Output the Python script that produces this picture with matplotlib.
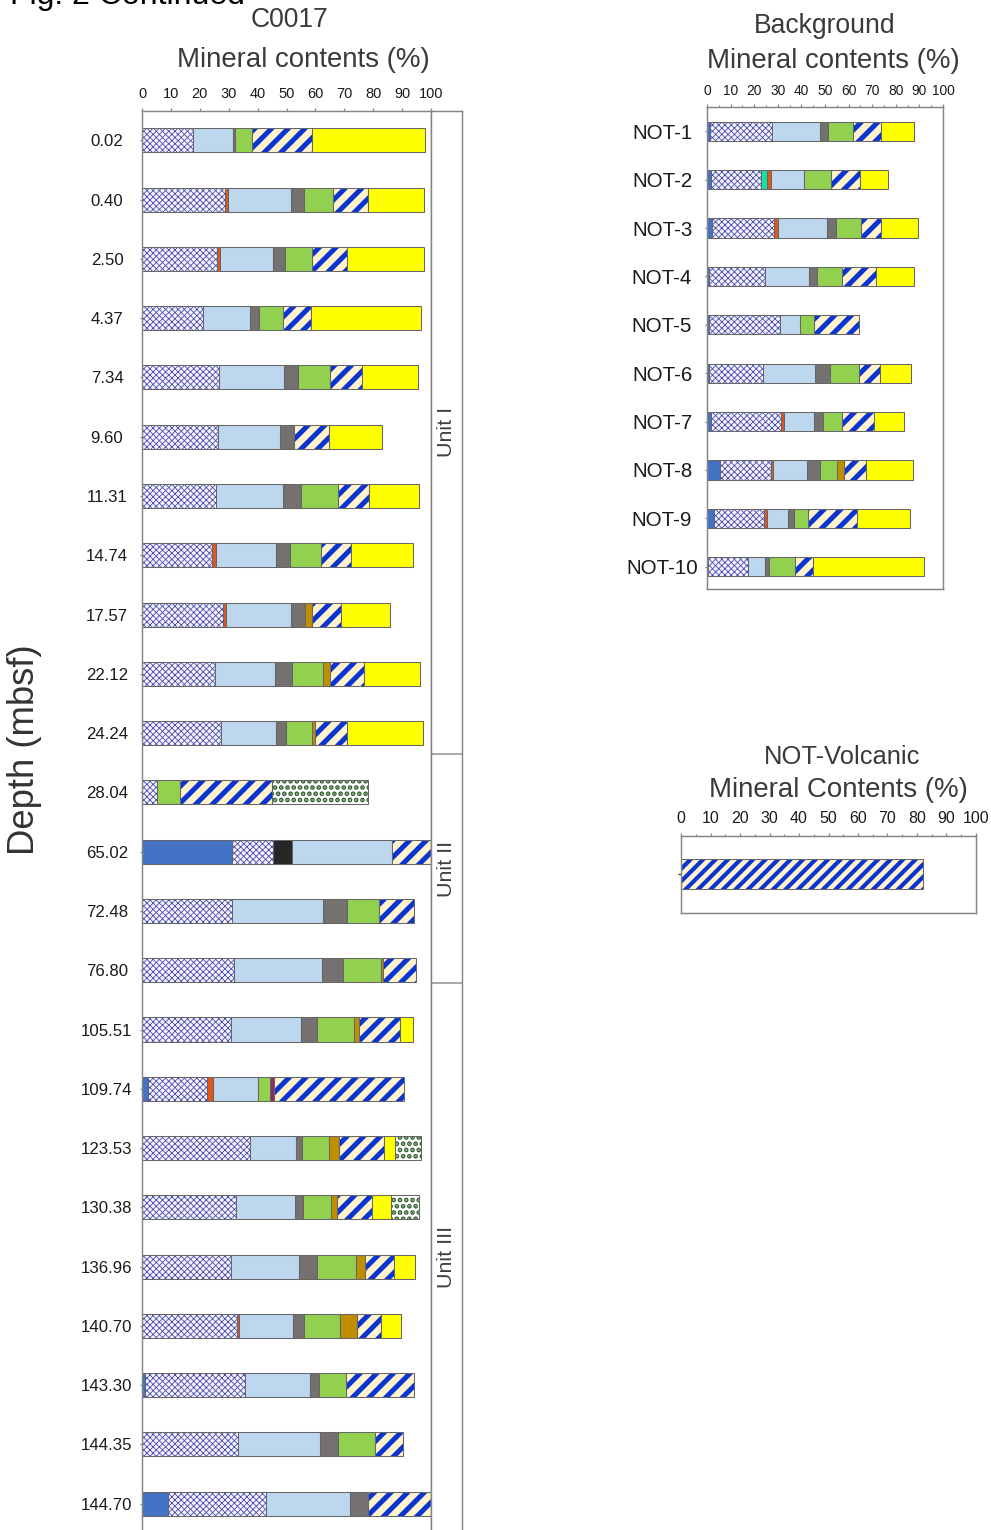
import numpy as np
import matplotlib
matplotlib.use("Agg")
import matplotlib.pyplot as plt

# ---------------- data ----------------
depth_labels = ["0.02", "0.40", "2.50", "4.37", "7.34", "9.60", "11.31", "14.74",
                "17.57", "22.12", "24.24", "28.04", "65.02", "72.48", "76.80",
                "105.51", "109.74", "123.53", "130.38", "136.96", "140.70",
                "143.30", "144.35", "144.70"]

c_solid_blue = [0, 0, 0, 0, 0, 0, 0, 0, 0, 0, 0, 0, 31.3, 0, 0, 0, 2.0, 0, 0, 0, 0, 1.0, 0, 9.0]
c_crosshatch = [17.8, 28.8, 26.1, 21.2, 26.6, 26.4, 25.7, 24.3, 28.1, 25.4, 27.5, 5.3,
                14.1, 31.1, 31.8, 30.9, 20.6, 37.5, 32.6, 30.9, 32.9, 34.7, 33.2, 33.9]
c_black = [0, 0, 0, 0, 0, 0, 0, 0, 0, 0, 0, 0, 6.6, 0, 0, 0, 0, 0, 0, 0, 0, 0, 0, 0]
c_orange = [0, 0.8, 1.0, 0, 0, 0, 0, 1.2, 1.0, 0, 0, 0, 0, 0, 0, 0, 2.0, 0, 0, 0, 0.6, 0, 0, 0]
c_light_blue = [13.6, 21.8, 18.3, 16.0, 22.4, 21.2, 23.1, 21.0, 22.5, 20.5, 18.9, 0,
                34.4, 31.6, 30.4, 24.1, 15.6, 15.9, 20.2, 23.5, 18.6, 22.6, 28.5, 28.9]
c_gray = [0.9, 4.6, 4.2, 3.3, 5.1, 5.1, 6.2, 4.6, 4.8, 5.9, 3.5, 0,
          0, 8.3, 7.3, 5.4, 0, 2.0, 2.9, 6.3, 3.9, 3.0, 6.1, 6.5]
c_green = [5.8, 10.0, 9.2, 8.2, 11.1, 0, 12.8, 10.8, 0, 10.8, 8.9, 8.0,
           0, 11.1, 13.3, 12.8, 4.2, 9.3, 9.6, 13.5, 12.6, 9.3, 12.8, 0]
c_purple = [0, 0, 0, 0, 0, 0, 0, 0, 0, 0, 0, 0, 0, 0, 0, 0, 1.4, 0, 0, 0, 0, 0, 0, 0]
c_gold = [0, 0, 0, 0, 0, 0, 0, 0, 2.5, 2.5, 1.2, 0, 0, 0, 0.6, 1.8, 0, 3.6, 2.2, 3.0, 5.9, 0, 0, 0]
c_stripes = [20.6, 12.1, 12.2, 9.7, 10.8, 12.0, 10.7, 10.5, 9.9, 11.6, 10.8, 31.8,
             13.6, 12.1, 11.5, 14.3, 44.8, 15.3, 12.1, 9.9, 8.3, 23.4, 9.7, 21.7]
c_yellow = [39.3, 19.4, 26.5, 38.1, 19.6, 18.2, 17.4, 21.2, 17.1, 19.4, 26.5, 0,
            0, 0, 0, 4.6, 0, 3.9, 6.7, 7.3, 6.8, 0, 0, 0]
c_dots = [0, 0, 0, 0, 0, 0, 0, 0, 0, 0, 0, 33.0, 0, 0, 0, 0, 0, 9.2, 9.7, 0, 0, 0, 0, 0]

unit_names = ["Unit I", "Unit II", "Unit III"]

bg_labels = ["NOT-1", "NOT-2", "NOT-3", "NOT-4", "NOT-5", "NOT-6", "NOT-7", "NOT-8", "NOT-9", "NOT-10"]
bg_solid_blue = [1.1, 1.8, 2.1, 0.8, 0.8, 1.0, 1.7, 5.5, 3.1, 0.6]
bg_crosshatch = [26.6, 21.2, 26.5, 23.9, 30.2, 22.9, 29.7, 21.5, 21.1, 16.6]
bg_teal = [0, 2.3, 0, 0, 0, 0, 0, 0, 0, 0]
bg_orange = [0, 1.7, 1.4, 0, 0, 0, 1.3, 1.1, 1.1, 0]
bg_light_blue = [20.3, 13.9, 21.0, 18.6, 8.4, 22.0, 12.6, 14.2, 8.9, 7.4]
bg_gray = [3.3, 0, 3.5, 3.3, 0, 6.1, 4.0, 5.4, 2.7, 1.8]
bg_green = [10.6, 11.6, 10.9, 10.8, 5.8, 12.6, 7.8, 7.5, 6.1, 11.0]
bg_gold = [0, 0, 0, 0, 0, 0, 0, 3.0, 0, 0]
bg_stripes = [11.8, 12.5, 8.5, 14.3, 19.1, 8.8, 13.7, 9.2, 20.5, 7.5]
bg_yellow = [14.0, 11.8, 15.6, 16.1, 0, 13.2, 12.7, 19.8, 22.7, 47.2]

volc_labels = [""]
volc_stripes = [82.1]

# ---------------- style ----------------
W, H, DPI = 991, 1530, 150
plt.rcParams['font.family'] = ['Liberation Sans', 'DejaVu Sans']

EDGE = '#666666'
SPINE = '#858585'
TXT = '#3a3a3a'

STYLES = {
    'solid_blue': dict(face='#4472C4'),
    'crosshatch': dict(face='#F4F4FC', hatch='xxxxxxxx', hc='#4A4AB4', hlw=0.4),
    'black': dict(face='#262626'),
    'orange': dict(face='#E2561B'),
    'teal': dict(face='#19E39B'),
    'light_blue': dict(face='#BDD7EE'),
    'gray': dict(face='#767171'),
    'green': dict(face='#92D050'),
    'purple': dict(face='#8E2A5C'),
    'gold': dict(face='#BF8F00'),
    'stripes': dict(face='#FFF2CC', hatch='///', hc='#0A35D0', hlw=2.4),
    'stripes_dense': dict(face='#FFF2CC', hatch='////', hc='#0A35D0', hlw=2.0),
    'yellow': dict(face='#FFFF00'),
    'dots': dict(face='#FFFFFF', hatch='....', hc='#2F5F2F', hlw=1.6),
}

fig = plt.figure(figsize=(W / DPI, H / DPI), dpi=DPI)


def ax_px(l, t, r, b):
    return fig.add_axes([l / W, 1 - b / H, (r - l) / W, (b - t) / H])


def fs(px):
    return px * 72.0 / DPI


def stacked(ax, comps, height):
    n = len(comps[0][1])
    y = np.arange(n)
    left = np.zeros(n)
    for key, vals in comps:
        vals = np.asarray(vals, float)
        m = vals > 0
        st = STYLES[key]
        if m.any():
            if 'hatch' in st:
                with plt.rc_context({'hatch.linewidth': st['hlw']}):
                    bars = ax.barh(y[m], vals[m], left=left[m], height=height,
                                   color=st['face'], edgecolor=st['hc'],
                                   linewidth=0, hatch=st['hatch'])
                    for p in bars:
                        if hasattr(p, 'set_hatch_linewidth'):
                            p.set_hatch_linewidth(st['hlw'])
                ax.barh(y[m], vals[m], left=left[m], height=height, fill=False,
                        edgecolor=EDGE, linewidth=0.5)
            else:
                ax.barh(y[m], vals[m], left=left[m], height=height,
                        color=st['face'], edgecolor=EDGE, linewidth=0.5)
        left += vals


def style_axes(ax, labelsize_x, pad_x, minor=False):
    ax.set_xlim(0, 100)
    ax.xaxis.tick_top()
    ax.set_xticks(np.arange(0, 101, 10))
    if minor:
        ax.set_xticks(np.arange(5, 100, 10), minor=True)
        ax.tick_params(axis='x', which='minor', direction='out', length=fs(2.0),
                       width=0.6, color=SPINE, top=True, bottom=False)
    ax.tick_params(axis='x', which='major', direction='out', length=fs(3.0), width=0.6,
                   color=SPINE, labelsize=labelsize_x, pad=pad_x, top=True,
                   bottom=False, labelcolor='#1a1a1a')
    for s in ax.spines.values():
        s.set_color(SPINE)
        s.set_linewidth(0.7)


# ---------------- main chart (C0017) ----------------
y0, dy = 140.3, 59.28
top_px, bot_px = 111, 1530
ax = ax_px(142, top_px, 431, bot_px)
main_comps = [('solid_blue', c_solid_blue), ('crosshatch', c_crosshatch), ('black', c_black),
              ('orange', c_orange), ('light_blue', c_light_blue), ('gray', c_gray),
              ('green', c_green), ('purple', c_purple), ('gold', c_gold),
              ('stripes', c_stripes), ('yellow', c_yellow), ('dots', c_dots)]
stacked(ax, main_comps, 0.405)
ylim_main = ((bot_px - y0) / dy, (top_px - y0) / dy)
ax.set_ylim(*ylim_main)
style_axes(ax, fs(14.5), fs(7))
ax.set_yticks(np.arange(len(depth_labels)))
ax.set_yticklabels(depth_labels, ha='center')
ax.tick_params(axis='y', direction='out', length=fs(2.5), width=0.6, color=SPINE,
               labelsize=fs(16.8), pad=fs(32.5), labelcolor='#1a1a1a')
ax.spines['bottom'].set_visible(False)

# unit column
axu = ax_px(431, top_px, 461.5, bot_px)
axu.set_ylim(*ylim_main)
axu.set_xlim(0, 1)
axu.set_xticks([])
axu.set_yticks([])
for s in axu.spines.values():
    s.set_color(SPINE)
    s.set_linewidth(0.7)
axu.spines['bottom'].set_visible(False)
unit_bounds = [ylim_main[1], 10.35, 14.22, ylim_main[0]]
for b in unit_bounds[1:-1]:
    axu.axhline(b, color='#9a9a9a', linewidth=0.8)
for i, name in enumerate(unit_names):
    axu.text(0.5, (unit_bounds[i] + unit_bounds[i + 1]) / 2, name, rotation=90,
             ha='center', va='center', fontsize=fs(21.5), color='#404040')

fig.text(25 / W, 1 - 750 / H, "Depth (mbsf)", rotation=90, ha='center', va='center',
         fontsize=fs(36.5), color='#333333')
fig.text(289 / W, 1 - 20 / H, "C0017", ha='center', va='center', fontsize=fs(26.5), color=TXT)
fig.text(303 / W, 1 - 60 / H, "Mineral contents (%)", ha='center', va='center',
         fontsize=fs(27.6), color=TXT)
fig.text(10 / W, 1 - 4 / H, "Fig. 2 Continued", ha='left', va='baseline',
         fontsize=fs(32), color='black')

# ---------------- background chart ----------------
by0, bdy = 131.3, 48.38
btop, bbot = 107, 589
axb = ax_px(707, btop, 943, bbot)
bg_comps = [('solid_blue', bg_solid_blue), ('crosshatch', bg_crosshatch), ('teal', bg_teal),
            ('orange', bg_orange), ('light_blue', bg_light_blue), ('gray', bg_gray),
            ('green', bg_green), ('gold', bg_gold), ('stripes', bg_stripes),
            ('yellow', bg_yellow)]
stacked(axb, bg_comps, 0.40)
axb.set_ylim((bbot - by0) / bdy, (btop - by0) / bdy)
style_axes(axb, fs(13.8), fs(6), minor=True)
axb.set_yticks(np.arange(len(bg_labels)))
axb.set_yticklabels(bg_labels, ha='center')
axb.tick_params(axis='y', direction='out', length=fs(2.5), width=0.6, color=SPINE,
                labelsize=fs(20.5), pad=fs(42.5), labelcolor='#1a1a1a')
fig.text(825 / W, 1 - 26 / H, "Background", ha='center', va='center', fontsize=fs(26.5), color=TXT)
fig.text(833 / W, 1 - 61 / H, "Mineral contents (%)", ha='center', va='center',
         fontsize=fs(27.6), color=TXT)

# ---------------- NOT-Volcanic chart ----------------
vtop, vbot, vc = 836, 913, 874
axv = ax_px(681, vtop, 976, vbot)
stacked(axv, [('stripes_dense', volc_stripes)], 30 / 77)
axv.set_ylim((vbot - vc) / 77, (vtop - vc) / 77)
style_axes(axv, fs(16), fs(7), minor=True)
axv.set_yticks([0])
axv.set_yticklabels(volc_labels)
axv.tick_params(axis='y', direction='out', length=fs(3), width=0.6, color='#333333')
fig.text(842 / W, 1 - 757 / H, "NOT-Volcanic", ha='center', va='center', fontsize=fs(25.5), color=TXT)
fig.text(838 / W, 1 - 790 / H, "Mineral Contents (%)", ha='center', va='center',
         fontsize=fs(27.6), color=TXT)

fig.savefig("out.png", dpi=DPI)
